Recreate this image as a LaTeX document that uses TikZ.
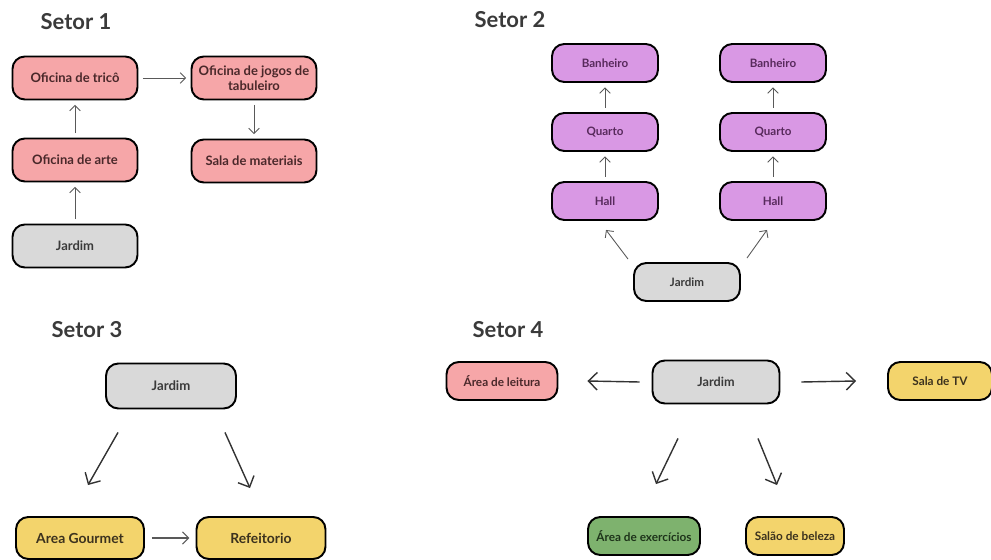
\documentclass[tikz,border=0pt]{standalone}
\usepackage{fontspec}
\setmainfont{Lato}
\usepackage{tikz}
\usetikzlibrary{calc,positioning,arrows.meta,shapes,backgrounds}

\definecolor{pnkf}{RGB}{246,166,168}
\definecolor{pnkt}{RGB}{74,40,42}
\definecolor{prpf}{RGB}{217,152,228}
\definecolor{prpt}{RGB}{88,42,92}
\definecolor{gryf}{RGB}{217,217,217}
\definecolor{gryt}{RGB}{58,58,58}
\definecolor{ylwf}{RGB}{243,212,108}
\definecolor{ylwt}{RGB}{60,50,30}
\definecolor{grnf}{RGB}{126,178,110}
\definecolor{grnt}{RGB}{30,52,26}
\definecolor{ttlc}{RGB}{58,58,58}

\begin{document}
\begin{tikzpicture}[x=0.02cm,y=-0.02cm,
  ttl/.style={font=\bfseries\fontsize{12.5}{14}\selectfont, text=ttlc},
  lnk/.style={-{Straight Barb[length=3pt,width=6pt]}, draw=black!65, line width=0.5pt, shorten >=2.5pt, shorten <=2.5pt},
  lnkb/.style={-{Straight Barb[length=5pt,width=10pt]}, draw=black!80, line width=0.8pt}]
\tikzstyle{box}=[draw=black, line width=1.1pt, rounded corners=7pt, align=center, inner sep=1pt]
\tikzstyle{pnk}=[box, fill=pnkf, text=pnkt, minimum width=2.5cm, minimum height=0.86cm, font=\bfseries\fontsize{7.4}{8.4}\selectfont]
\tikzstyle{gry}=[box, fill=gryf, text=gryt, minimum width=2.5cm, minimum height=0.86cm, font=\bfseries\fontsize{7.4}{8.4}\selectfont]
\tikzstyle{prp}=[box, fill=prpf, text=prpt, minimum width=2.12cm, minimum height=0.76cm, font=\bfseries\fontsize{6.6}{7.6}\selectfont]
\tikzstyle{sml}=[box, font=\bfseries\fontsize{6.7}{7.7}\selectfont, minimum height=0.76cm]
\useasboundingbox (0,0) rectangle (991,560);

% Setor 1
\node[ttl] (t1) at (76,22) {Setor 1};
\node[pnk] (tric) at (75,78) {Oficina de tricô};
\node[pnk] (jogos) at (254,78) {Oficina de jogos de\\tabuleiro};
\node[pnk] (arte) at (75,160) {Oficina de arte};
\node[pnk] (sala) at (254,161) {Sala de materiais};
\node[gry] (jard1) at (75,246) {Jardim};
\foreach \i/\j in {jard1/arte,arte/tric,tric/jogos,jogos/sala}{\draw[lnk] (\i) -- (\j);}

% Setor 2
\node[ttl] (t2) at (510,20) {Setor 2};
\foreach \n/\x in {a/605,b/773}{
  \node[prp] (ban\n) at (\x,63) {Banheiro};
  \node[prp] (qua\n) at (\x,132) {Quarto};
  \node[prp] (hal\n) at (\x,201) {Hall};
  \draw[lnk] (hal\n) -- (qua\n);
  \draw[lnk] (qua\n) -- (ban\n);
}
\node[gry, font=\bfseries\fontsize{6.6}{7.6}\selectfont, minimum width=2.12cm, minimum height=0.76cm] (jard2) at (687,282) {Jardim};
\draw[lnk, shorten <=0pt, shorten >=0pt] ($(jard2.north)+(-59,-3)$) -- ($(hala.south)+(1,9)$);
\draw[lnk, shorten <=0pt, shorten >=0pt] ($(jard2.north)+(60,-4)$) -- ($(halb.south)+(-6,9)$);

% Setor 3
\node[ttl] (t3) at (87,330) {Setor 3};
\node[gry, font=\bfseries\fontsize{7.5}{8.5}\selectfont, minimum width=2.6cm, minimum height=0.9cm] (jard3) at (171,386) {Jardim};
\node[box, fill=ylwf, text=ylwt, font=\bfseries\fontsize{7.9}{8.9}\selectfont, minimum width=2.56cm, minimum height=0.84cm] (gour) at (80,538) {Area Gourmet};
\node[box, fill=ylwf, text=ylwt, font=\bfseries\fontsize{7.9}{8.9}\selectfont, minimum width=2.58cm, minimum height=0.84cm] (refe) at (261,538) {Refeitorio};
\draw[lnkb] ($(jard3.south)+(-53,23)$) -- ($(gour.north)+(8,-31)$);
\draw[lnkb] ($(jard3.south)+(54,23)$) -- ($(refe.north)+(-11,-28)$);
\draw[lnk, -{Straight Barb[length=3.5pt,width=7pt]}, line width=0.6pt, shorten <=4pt, shorten >=3.5pt] (gour) -- (refe);

% Setor 4
\node[ttl] (t4) at (508,330) {Setor 4};
\node[gry, font=\bfseries\fontsize{7.2}{8.2}\selectfont, minimum width=2.54cm, minimum height=0.86cm] (jard4) at (716,382) {Jardim};
\node[sml, fill=pnkf, text=pnkt, minimum width=2.22cm] (leit) at (502,381) {Área de leitura};
\node[sml, fill=ylwf, text=ylwt, minimum width=2.08cm] (tv) at (940,381) {Sala de TV};
\node[sml, fill=grnf, text=grnt, minimum width=2.24cm] (exer) at (644,536) {Área de exercícios};
\node[sml, fill=ylwf, text=ylwt, minimum width=1.96cm] (salao) at (795,536) {Salão de beleza};
\draw[lnkb] ($(jard4.west)+(-12,0)$) -- ($(leit.east)+(29,0)$);
\draw[lnkb] ($(jard4.east)+(21,0)$) -- ($(tv.west)+(-31,0)$);
\draw[lnkb] ($(jard4.south)+(-38,34)$) -- ($(exer.north)+(12,-32)$);
\draw[lnkb] ($(jard4.south)+(42,34)$) -- ($(salao.north)+(-18,-31)$);
\end{tikzpicture}
\end{document}
